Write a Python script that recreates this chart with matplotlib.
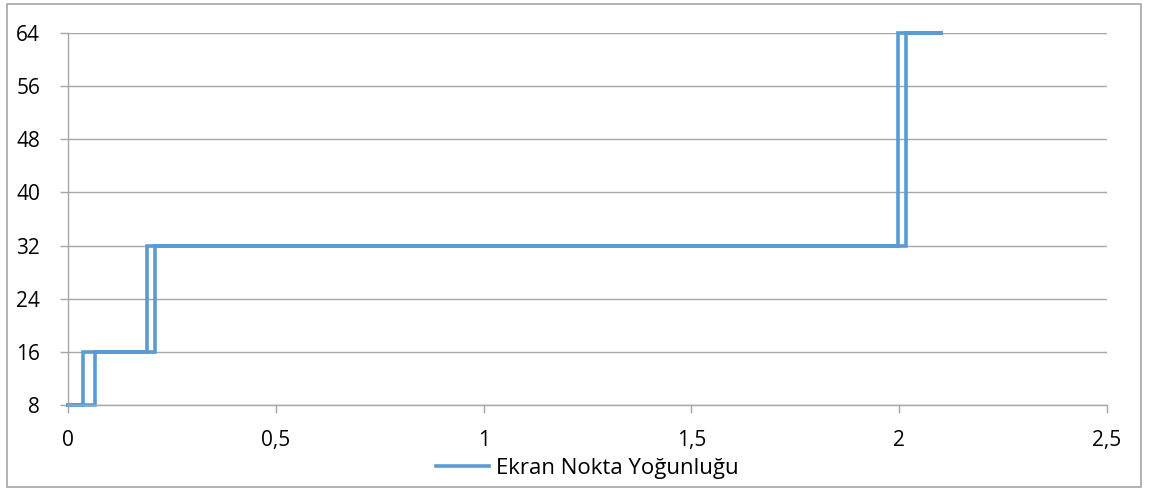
import matplotlib
matplotlib.use("Agg")
import matplotlib.pyplot as plt
from matplotlib.patches import Rectangle

plt.rcParams["font.family"] = ["Open Sans", "DejaVu Sans"]

# screen dot density steps (loop: rising edge, then falling edge back)
time_s = [0, 0.064, 0.064, 0.209, 0.209, 2.016, 2.016, 2.105,
          1.996, 1.996, 0.189, 0.189, 0.037, 0.037, 0]
density = [8, 8, 16, 16, 32, 32, 64, 64,
           64, 32, 32, 16, 16, 8, 8]

x_ticks = [0, 0.5, 1, 1.5, 2, 2.5]
x_labels = ["0", "0,5", "1", "1,5", "2", "2,5"]
y_ticks = [8, 16, 24, 32, 40, 48, 56, 64]

GRID = "#A6A6A6"
LINE = "#5B9BD5"

fig = plt.figure(figsize=(11.5, 4.88), dpi=100)
ax = fig.add_axes([0.0591, 0.1701, 0.9035, 0.7623])

ax.plot(time_s, density, color=LINE, linewidth=2.6, solid_joinstyle="miter",
        label="Ekran Nokta Yoğunluğu", clip_on=False)

ax.set_xlim(0, 2.5)
ax.set_ylim(8, 64)
ax.set_xticks(x_ticks)
ax.set_xticklabels(x_labels)
ax.set_yticks(y_ticks)

ax.grid(axis="y", color=GRID, linewidth=1)
ax.set_axisbelow(True)
for side in ("top", "right"):
    ax.spines[side].set_visible(False)
for side in ("left", "bottom"):
    ax.spines[side].set_color(GRID)
    ax.spines[side].set_linewidth(1)

ax.tick_params(axis="both", colors=GRID, labelcolor="black", labelsize=15,
               length=6, width=1)
ax.tick_params(axis="x", pad=12)
ax.tick_params(axis="y", pad=14)

ax.legend(loc="center", bbox_to_anchor=(0.5, -0.17), frameon=False,
          fontsize=16, handlelength=2.4, handletextpad=0.3)

# outer chart border
fig.patches.append(Rectangle((0.0061, 0.002), 0.9861, 0.99, transform=fig.transFigure,
                             fill=False, edgecolor=GRID, linewidth=1.2))

fig.savefig("out.png", dpi=100)
plt.close(fig)
